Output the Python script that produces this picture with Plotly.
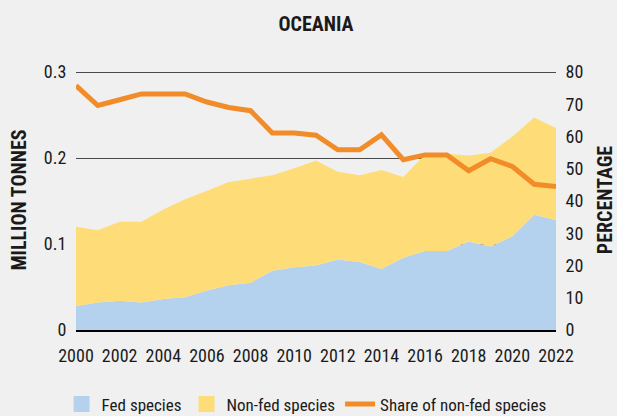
import plotly.graph_objects as go

years = list(range(2000, 2023))
fed_species = [0.028, 0.032, 0.034, 0.032, 0.036, 0.038, 0.046, 0.052, 0.055, 0.069, 0.073, 0.075,
               0.082, 0.079, 0.071, 0.084, 0.092, 0.092, 0.103, 0.097, 0.109, 0.134, 0.128]
non_fed_species = [0.092, 0.084, 0.092, 0.094, 0.104, 0.114, 0.116, 0.120, 0.121, 0.111, 0.115, 0.122,
                   0.102, 0.101, 0.115, 0.094, 0.112, 0.113, 0.100, 0.109, 0.116, 0.113, 0.107]
share_non_fed = [75.8, 69.6, 71.4, 73.2, 73.2, 73.2, 70.7, 69.0, 68.0, 61.1, 61.1, 60.4,
                 55.9, 55.9, 60.5, 52.8, 54.3, 54.3, 49.4, 53.1, 50.7, 45.2, 44.5]
x_ticks = list(range(2000, 2023, 2))
left_ticks = [0, 0.1, 0.2, 0.3]
left_labels = ["0", "0.1", "0.2", "0.3"]
right_ticks = list(range(0, 81, 10))

BLUE = "#b4d2ee"
YELLOW = "#fedd79"
ORANGE = "#f28c28"
BG = "#f0f0f0"
FONT = "Liberation Sans Narrow, Roboto Condensed, DejaVu Sans Condensed, Arial Narrow, sans-serif"
TXT = "#1a1a1a"

# plot area is 2px taller than the 0-0.3 span so the 0.3 gridline is not clipped at the edge
PAD = 260 / 258

fig = go.Figure()
fig.add_trace(go.Scatter(x=years, y=fed_species, stackgroup="a", mode="lines",
                         line=dict(width=0, color=BLUE), fillcolor=BLUE,
                         showlegend=False, hoverinfo="skip"))
fig.add_trace(go.Scatter(x=years, y=non_fed_species, stackgroup="a", mode="lines",
                         line=dict(width=0, color=YELLOW), fillcolor=YELLOW,
                         showlegend=False, hoverinfo="skip"))
fig.add_trace(go.Scatter(x=years, y=share_non_fed, yaxis="y2", mode="lines",
                         line=dict(width=5, color=ORANGE), showlegend=False))
# legend entries
fig.add_trace(go.Scatter(x=[None], y=[None], mode="markers", name="Fed species",
                         marker=dict(symbol="square", size=16, color=BLUE)))
fig.add_trace(go.Scatter(x=[None], y=[None], mode="markers", name="Non-fed species",
                         marker=dict(symbol="square", size=16, color=YELLOW)))
fig.add_trace(go.Scatter(x=[None], y=[None], mode="lines", name="Share of non-fed species",
                         line=dict(width=5, color=ORANGE)))

fig.update_layout(
    width=617, height=416,
    paper_bgcolor=BG, plot_bgcolor=BG,
    margin=dict(l=76, r=61, t=70, b=86, autoexpand=False),
    font=dict(family=FONT, size=17, color=TXT),
    title=dict(text="<b>OCEANIA</b>", x=0.5, xref="paper", xanchor="center",
               y=1 - 24 / 416, yref="container", yanchor="middle", font=dict(size=20)),
    xaxis=dict(range=[2000, 2022], tickvals=x_ticks, showgrid=False, zeroline=False,
               ticks="outside", ticklen=9, tickcolor="rgba(0,0,0,0)",
               tickfont=dict(size=18, family=FONT), tickprefix="<b>", ticksuffix="</b>",
               fixedrange=True),
    yaxis=dict(range=[0, 0.3 * PAD], tickvals=left_ticks, ticktext=left_labels,
               showgrid=True, gridcolor="#4a4a4a", gridwidth=1,
               zeroline=True, zerolinecolor="#000000", zerolinewidth=3,
               ticks="outside", ticklen=5, tickcolor="rgba(0,0,0,0)",
               tickfont=dict(size=18),
               title=dict(text="<b>MILLION TONNES</b>", font=dict(size=20), standoff=11),
               automargin=False),
    yaxis2=dict(range=[0, 80 * PAD], tickvals=right_ticks, overlaying="y", side="right",
                showgrid=False, zeroline=False,
                ticks="outside", ticklen=5, tickcolor="rgba(0,0,0,0)",
                tickfont=dict(size=18),
                title=dict(text="<b>PERCENTAGE</b>", font=dict(size=20), standoff=16),
                automargin=False),
    legend=dict(orientation="h", x=-0.03, xanchor="left", y=-0.2865, yanchor="middle",
                traceorder="normal",
                bgcolor="rgba(0,0,0,0)", font=dict(size=17), itemclick=False),
    showlegend=True,
)

fig.write_html("out.html", config={"displayModeBar": False},
               post_script="document.body.style.margin='0px';")
